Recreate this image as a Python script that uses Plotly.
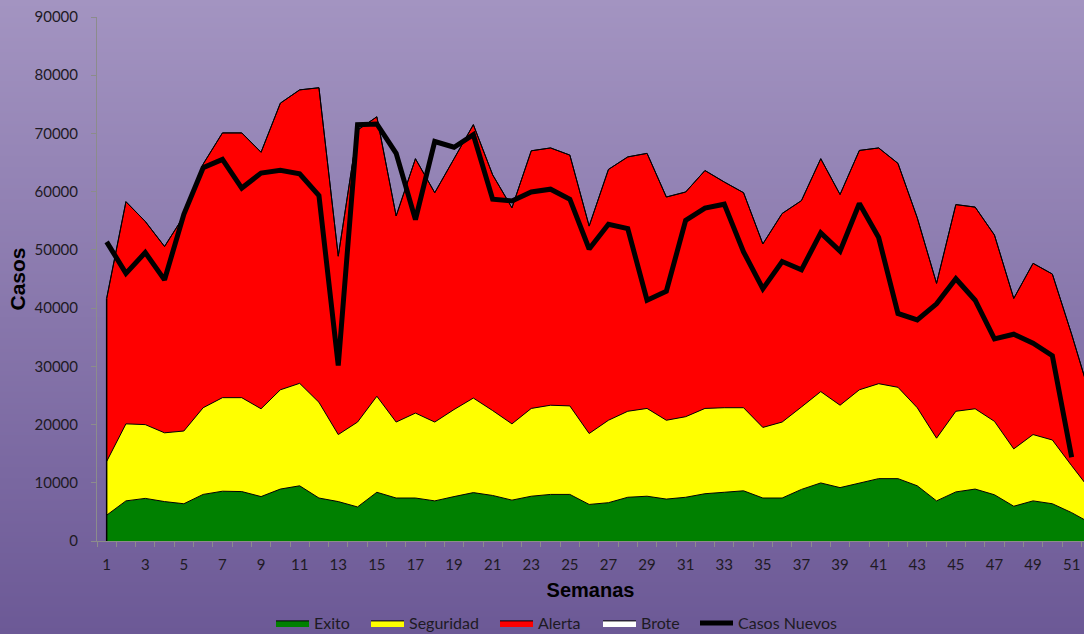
import base64, struct, zlib
import plotly.graph_objects as go

weeks = list(range(1, 53))
exito = [4430, 6890, 7320, 6770, 6400, 8000, 8550, 8490, 7630, 8920,
         9480, 7380, 6770, 5850, 8370, 7380, 7380, 6890, 7630, 8310,
         7820, 7020, 7690, 8000, 8000, 6280, 6580, 7510, 7690, 7200,
         7510, 8120, 8370, 8620, 7380, 7380, 8860, 9970, 9170, 9970,
         10710, 10710, 9480, 6890, 8430, 8920, 7940, 5970, 6890, 6400,
         4870, 3040]
seguridad = [9230, 13230, 12670, 11810, 12490, 14890, 16070, 16130, 15080, 17050,
             17600, 16440, 11510, 14580, 16490, 13050, 14590, 13540, 14950, 16240,
             14580, 13100, 15080, 15320, 15200, 12180, 14160, 14770, 15080, 13540,
             13840, 14650, 14520, 14270, 12130, 13050, 14160, 15690, 14150, 16000,
             16310, 15690, 13410, 10770, 13850, 13790, 12610, 9850, 11390, 10950,
             8070, 5600]
alerta = [28000, 38160, 34900, 32000, 36930, 41850, 45470, 45470, 44060, 49230,
          50400, 54030, 30640, 50150, 48000, 35390, 43690, 39390, 43080, 46960,
          40490, 37110, 44250, 44190, 43080, 35630, 43080, 43690, 43810, 38340,
          38590, 40860, 38770, 36930, 31510, 35820, 35440, 40000, 36190, 41110,
          40490, 38460, 32620, 26590, 35500, 34640, 32000, 25840, 29410, 28500,
          22560, 15860]
brote = [0] * 52
casos_weeks = list(range(1, 52))
casos_nuevos = [51380, 45970, 49540, 44860, 56120, 64120, 65540, 60620, 63200, 63690,
                63080, 59320, 30150, 71510, 71630, 66580, 55200, 68620, 67630, 69780,
                58710, 58400, 59940, 60430, 58710, 50150, 54400, 53660, 41350, 42890,
                55080, 57170, 57850, 49660, 43320, 48000, 46580, 52920, 49780, 57970,
                52120, 39080, 37970, 40740, 45050, 41350, 34710, 35510, 33970, 31820,
                14380]
x_ticks = list(range(1, 52, 2))
y_ticks = list(range(0, 90001, 10000))

W, H = 1084, 634
ML, MT, MB, MR = 97, 17, 93, 0
PW, PH = W - ML - MR, H - MT - MB


def gradient_png(h, top, bottom):
    rows = b""
    for i in range(h):
        t = i / (h - 1)
        c = bytes(int(round(top[k] + (bottom[k] - top[k]) * t)) for k in range(3))
        rows += b"\x00" + c
    def chunk(tag, data):
        return (struct.pack(">I", len(data)) + tag + data +
                struct.pack(">I", zlib.crc32(tag + data) & 0xffffffff))
    png = b"\x89PNG\r\n\x1a\n"
    png += chunk(b"IHDR", struct.pack(">IIBBBBB", 1, h, 8, 2, 0, 0, 0))
    png += chunk(b"IDAT", zlib.compress(rows))
    png += chunk(b"IEND", b"")
    return "data:image/png;base64," + base64.b64encode(png).decode()


bg = gradient_png(H, (163, 148, 193), (108, 89, 150))

fig = go.Figure()
series = [("Exito", exito, "#008000", 47), ("Seguridad", seguridad, "#FFFF00", 81),
          ("Alerta", alerta, "#FF0000", 55), ("Brote", brote, "#FFFFFF", 49)]
for name, vals, col, lw in series:
    fig.add_trace(go.Scatter(x=weeks, y=vals, name=name, mode="lines",
                             stackgroup="one", fillcolor=col, legendwidth=lw,
                             line=dict(color="black", width=1)))

total0 = exito[0] + seguridad[0] + alerta[0] + brote[0]
fig.add_trace(go.Scatter(x=[weeks[0], weeks[0]], y=[0, total0], mode="lines",
                         line=dict(color="black", width=1.5), showlegend=False,
                         hoverinfo="skip"))
fig.add_trace(go.Scatter(x=casos_weeks, y=casos_nuevos, name="Casos Nuevos",
                         mode="lines", line=dict(color="black", width=5),
                         legendwidth=110))

tick_font = dict(family="Lato, Open Sans, sans-serif", size=15, color="#1e1a24")
fig.update_layout(
    width=W, height=H,
    margin=dict(l=ML, r=MR, t=MT, b=MB, autoexpand=False),
    paper_bgcolor="#8a78b0", plot_bgcolor="rgba(0,0,0,0)",
    showlegend=True,
    legend=dict(orientation="h", x=(271 - ML) / PW, xanchor="left",
                y=-(606 - (MT + PH)) / PH, yanchor="top",
                font=dict(family="Lato, Open Sans, sans-serif", size=16, color="#1e1a24"),
                traceorder="normal", itemwidth=33, bgcolor="rgba(0,0,0,0)"),
    images=[dict(source=bg, xref="paper", yref="paper",
                 x=-ML / PW, y=1 + MT / PH, sizex=W / PW, sizey=H / PH,
                 xanchor="left", yanchor="top", sizing="stretch", layer="below")],
    xaxis=dict(range=[0.5, 0.5 + PW / 19.3], tickvals=x_ticks,
               ticktext=[str(v) for v in x_ticks], ticks="outside", ticklen=0,
               tickfont=tick_font, showgrid=False, zeroline=False,
               showline=True, linecolor="#8c8c8c", linewidth=1,
               ticklabelstandoff=10, automargin=False,
               minor=dict(ticks="outside", tick0=0.5, dtick=1, ticklen=5,
                          tickcolor="#8c8c8c", showgrid=False),
               title=dict(text="<b>Semanas</b>", standoff=10,
                          font=dict(family="Liberation Sans, Arial", size=20, color="#000000"))),
    yaxis=dict(range=[0, 90000], tickvals=y_ticks,
               ticktext=[str(v) for v in y_ticks], ticks="outside", ticklen=5,
               tickcolor="#8c8c8c", tickfont=tick_font, showgrid=False,
               zeroline=False, showline=True, linecolor="#8c8c8c", linewidth=1,
               ticklabelstandoff=10, automargin=False,
               title=dict(text="<b>Casos</b>", standoff=3,
                          font=dict(family="Liberation Sans, Arial", size=21, color="#000000"))),
)

fig.write_html("out.html", config={"displayModeBar": False},
               post_script="document.body.style.margin='0';document.body.style.overflow='hidden';")
